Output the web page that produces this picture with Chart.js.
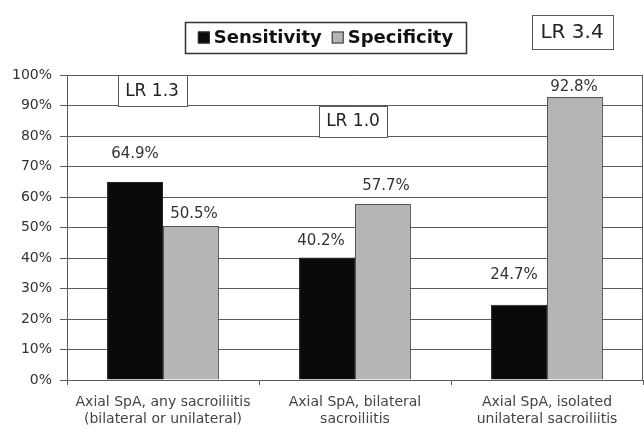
<!DOCTYPE html>
<html>
<head>
<meta charset="utf-8">
<script src="https://cdn.jsdelivr.net/npm/chart.js@4"></script>
<style>
  html, body { margin: 0; padding: 0; background: #fff; }
  canvas { display: block; }
</style>
</head>
<body>
<canvas id="c" width="644" height="432"></canvas>
<script>
// Sensitivity / specificity of sacroiliitis findings — grouped bars
const categories = [
    ['Axial SpA, any sacroiliitis', '(bilateral or unilateral)'],
    ['Axial SpA, bilateral', 'sacroiliitis'],
    ['Axial SpA, isolated', 'unilateral sacroiliitis'],
];
const sensitivity = [64.9, 40.2, 24.7];
const specificity = [50.5, 57.7, 92.8];
const yTicks = [0, 10, 20, 30, 40, 50, 60, 70, 80, 90, 100];

const GRID = '#5a5a5a';
const FONT = 'DejaVu Sans';

// value label placement (gap above bar top, x shift) per dataset/point
const labelOffsets = [
    [{ gap: 28, dx: 0 }, { gap: 16, dx: -6 }, { gap: 30, dx: -5 }],
    [{ gap: 12, dx: 3 }, { gap: 18, dx: 3 }, { gap: 10, dx: -1 }],
];

// LR annotation boxes
const lrBoxes = [
    { text: 'LR 1.3', cat: 0, dx: -11, w: 69, from: 100, to: 90, size: 17 },
    { text: 'LR 1.0', cat: 1, dx: -2, w: 68, from: 90, to: 80, size: 17 },
    { text: 'LR 3.4', cat: 2, dx: 25, w: 81, top: 15, h: 34, size: 20 },
];

const decor = {
    id: 'decor',
    afterDatasetsDraw(chart) {
        const { ctx, chartArea: a, scales: { x, y } } = chart;
        ctx.save();

        // right border of plot
        ctx.strokeStyle = GRID;
        ctx.lineWidth = 1;
        ctx.beginPath();
        ctx.moveTo(Math.round(a.right) - 0.5, a.top);
        ctx.lineTo(Math.round(a.right) - 0.5, a.bottom);
        ctx.stroke();

        // value labels
        ctx.font = '15px "' + FONT + '"';
        ctx.fillStyle = '#333';
        ctx.textAlign = 'center';
        ctx.textBaseline = 'middle';
        chart.data.datasets.forEach((ds, di) => {
            chart.getDatasetMeta(di).data.forEach((bar, i) => {
                const o = labelOffsets[di][i];
                ctx.fillText(ds.data[i].toFixed(1) + '%', bar.x + o.dx, bar.y - o.gap);
            });
        });

        // LR boxes
        lrBoxes.forEach(b => {
            const cx = x.getPixelForValue(b.cat) + b.dx;
            const top = b.top !== undefined ? b.top : y.getPixelForValue(b.from);
            const h = b.h !== undefined ? b.h : y.getPixelForValue(b.to) - top;
            const left = Math.round(cx - b.w / 2) + 0.5;
            ctx.fillStyle = '#fff';
            ctx.fillRect(left, Math.round(top) + 0.5, b.w, Math.round(h));
            ctx.strokeStyle = GRID;
            ctx.strokeRect(left, Math.round(top) + 0.5, b.w, Math.round(h));
            ctx.fillStyle = '#222';
            ctx.font = b.size + 'px "' + FONT + '"';
            ctx.fillText(b.text, cx, top + h / 2 + 1);
        });

        // legend box
        ctx.font = 'bold 18px "' + FONT + '"';
        const sq = 12, gap = 4, between = 10;
        const items = chart.data.datasets.map(ds => ({
            label: ds.label, fill: ds.backgroundColor, w: ctx.measureText(ds.label).width
        }));
        const total = items.reduce((s, it) => s + sq + gap + it.w, 0) + between * (items.length - 1);
        const boxL = 185, boxR = 466, boxT = 22, boxB = 53;
        ctx.fillStyle = '#fff';
        ctx.fillRect(boxL, boxT, boxR - boxL, boxB - boxT);
        ctx.strokeStyle = '#333';
        ctx.lineWidth = 1.5;
        ctx.strokeRect(boxL + 0.5, boxT + 0.5, boxR - boxL, boxB - boxT);
        ctx.lineWidth = 1;
        let px = (boxL + boxR) / 2 - total / 2;
        const cy = (boxT + boxB) / 2;
        ctx.textAlign = 'left';
        items.forEach(it => {
            ctx.fillStyle = it.fill;
            ctx.fillRect(px, cy - sq / 2, sq, sq);
            ctx.strokeStyle = '#333';
            ctx.strokeRect(px + 0.5, cy - sq / 2 + 0.5, sq - 1, sq - 1);
            px += sq + gap;
            ctx.fillStyle = '#111';
            ctx.fillText(it.label, px, cy + 1);
            px += it.w + between;
        });

        ctx.restore();
    }
};

new Chart(document.getElementById('c'), {
    type: 'bar',
    data: {
        labels: categories,
        datasets: [
            { label: 'Sensitivity', data: sensitivity, backgroundColor: '#0a0a0a', borderColor: '#222', borderWidth: 1 },
            { label: 'Specificity', data: specificity, backgroundColor: '#b5b5b5', borderColor: '#555', borderWidth: 1 },
        ]
    },
    options: {
        responsive: false,
        animation: false,
        devicePixelRatio: 1,
        layout: { padding: { top: 75, right: 1, left: 0, bottom: 0 } },
        datasets: { bar: { categoryPercentage: 0.583, barPercentage: 1 } },
        scales: {
            x: {
                afterFit: s => { s.height = 52; },
                grid: { drawOnChartArea: false, tickLength: 5, color: GRID },
                border: { display: true, color: GRID },
                ticks: { color: '#444', padding: 9, font: { family: FONT, size: 14 } },
            },
            y: {
                min: 0, max: 100,
                afterFit: s => { s.width = 67; },
                afterBuildTicks: s => { s.ticks = yTicks.map(v => ({ value: v })); },
                grid: { color: GRID, tickLength: 7 },
                border: { display: true, color: GRID },
                ticks: { color: '#333', padding: 8, font: { family: FONT, size: 14 }, callback: v => v + '%' },
            }
        },
        plugins: { legend: { display: false }, tooltip: { enabled: false } }
    },
    plugins: [decor]
});
</script>
</body>
</html>
